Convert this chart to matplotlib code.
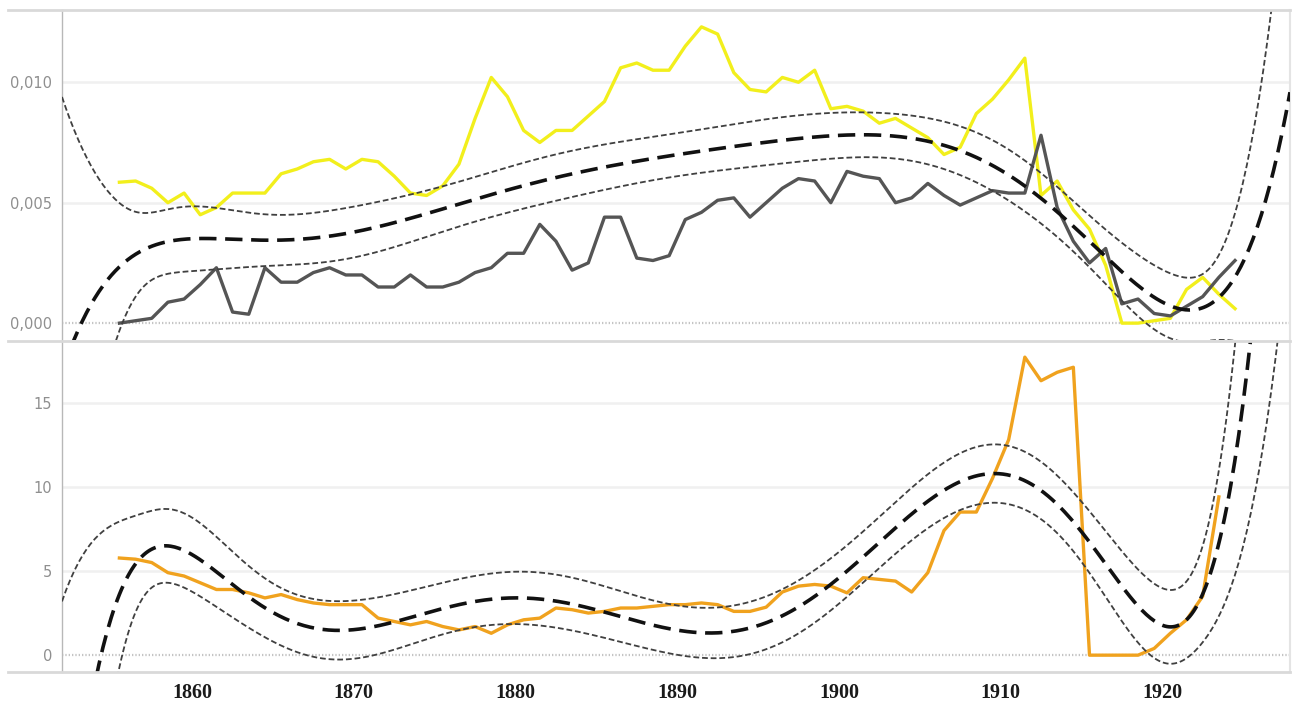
import matplotlib
matplotlib.use("Agg")
import matplotlib.pyplot as plt
from matplotlib.lines import Line2D
from matplotlib.ticker import FixedLocator, FuncFormatter
import numpy as np

# yearly observations, 1855..1924 (plotted at mid-year)
years = np.arange(1855, 1925)

yellow = [0.00585, 0.0059, 0.0056, 0.0050, 0.0054, 0.0045, 0.0048, 0.0054, 0.0054, 0.0054,
          0.0062, 0.0064, 0.0067, 0.0068, 0.0064, 0.0068, 0.0067, 0.0061, 0.0054, 0.0053,
          0.0057, 0.0066, 0.0085, 0.0102, 0.0094, 0.0080, 0.0075, 0.0080, 0.0080, 0.0086,
          0.0092, 0.0106, 0.0108, 0.0105, 0.0105, 0.0115, 0.0123, 0.0120, 0.0104, 0.0097,
          0.0096, 0.0102, 0.0100, 0.0105, 0.0089, 0.0090, 0.0088, 0.0083, 0.0085, 0.0081,
          0.0077, 0.0070, 0.0073, 0.0087, 0.0093, 0.0101, 0.0110, 0.0053, 0.0059, 0.0047,
          0.0039, 0.0024, 0.0000, 0.0000, 0.0001, 0.0002, 0.0014, 0.0019, 0.0012, 0.0006]

gray = [0.0000, 0.0001, 0.0002, 0.00087, 0.0010, 0.0016, 0.0023, 0.00046, 0.00037, 0.0023,
        0.0017, 0.0017, 0.0021, 0.0023, 0.0020, 0.0020, 0.0015, 0.0015, 0.0020, 0.0015,
        0.0015, 0.0017, 0.0021, 0.0023, 0.0029, 0.0029, 0.0041, 0.0034, 0.0022, 0.0025,
        0.0044, 0.0044, 0.0027, 0.0026, 0.0028, 0.0043, 0.0046, 0.0051, 0.0052, 0.0044,
        0.0050, 0.0056, 0.0060, 0.0059, 0.0050, 0.0063, 0.0061, 0.0060, 0.0050, 0.0052,
        0.0058, 0.0053, 0.0049, 0.0052, 0.0055, 0.0054, 0.0054, 0.0078, 0.0048, 0.0034,
        0.0025, 0.0031, 0.0008, 0.0010, 0.0004, 0.0003, 0.0007, 0.0011, 0.0019, 0.0026]

orange = [5.77, 5.7, 5.5, 4.9, 4.7, 4.3, 3.9, 3.9, 3.7, 3.4,
          3.6, 3.3, 3.1, 3.0, 3.0, 3.0, 2.2, 2.0, 1.8, 2.0,
          1.7, 1.5, 1.7, 1.3, 1.8, 2.1, 2.2, 2.8, 2.7, 2.5,
          2.6, 2.8, 2.8, 2.9, 3.0, 3.0, 3.1, 3.0, 2.6, 2.6,
          2.85, 3.75, 4.1, 4.2, 4.1, 3.7, 4.6, 4.5, 4.4, 3.75,
          4.9, 7.4, 8.5, 8.5, 10.5, 12.8, 17.7, 16.3, 16.8, 17.1,
          0.0, 0.0, 0.0, 0.0, 0.4, 1.3, 2.1, 3.5, 9.4, np.nan]

top_ticks = [0.0, 0.005, 0.010]
bottom_ticks = [0, 5, 10, 15]
x_ticks = [1860, 1870, 1880, 1890, 1900, 1910, 1920]

DEGREE = 7


def poly_trend(x, y, grid, deg=DEGREE, z=1.96):
    """Polynomial trend line with 95% confidence band of the mean."""
    x = np.asarray(x, float)
    y = np.asarray(y, float)
    ok = ~np.isnan(y)
    x, y = x[ok], y[ok]
    u = (x - 1890.0) / 35.0
    ug = (grid - 1890.0) / 35.0
    X = np.vander(u, deg + 1)
    Xg = np.vander(ug, deg + 1)
    beta, *_ = np.linalg.lstsq(X, y, rcond=None)
    resid = y - X @ beta
    s2 = resid @ resid / (len(y) - (deg + 1))
    cov = s2 * np.linalg.inv(X.T @ X)
    fit = Xg @ beta
    se = np.sqrt(np.sum((Xg @ cov) * Xg, axis=1))
    return fit, fit - z * se, fit + z * se


def draw_trend(ax, x, y, grid):
    fit, lo, hi = poly_trend(x, y, grid)
    for band in (lo, hi):
        ax.plot(grid, band, color="#404040", lw=1.3, ls=(0, (3.2, 1.6)), zorder=4)
    ax.plot(grid, fit, color="#111111", lw=2.6, ls=(0, (4.8, 2.4)), zorder=5)


def style_axis(ax, ticks, fmt, ylim):
    ax.set_xlim(1851.95, 1927.9)
    ax.set_ylim(*ylim)
    for t in ticks:
        if t == 0:
            ax.axhline(t, color="#c4c4c4", lw=1.6, ls=(0, (0.6, 0.9)), zorder=1)
        else:
            ax.axhline(t, color="#f0f0f0", lw=1.8, zorder=0)
    ax.yaxis.set_major_locator(FixedLocator(ticks))
    ax.yaxis.set_major_formatter(FuncFormatter(fmt))
    ax.tick_params(axis="y", length=0, pad=7, labelsize=10.5, labelcolor="#8f8f8f")
    for side in ("top", "bottom"):
        ax.spines[side].set_visible(False)
    ax.spines["left"].set_color("#b8b8b8")
    ax.spines["left"].set_linewidth(1.0)
    ax.spines["right"].set_color("#e4e4e4")
    ax.spines["right"].set_linewidth(1.5)


fig = plt.figure(figsize=(12.98, 7.02), dpi=100)
W, H = 1298.0, 702.0
left, right = 62 / W, 1290 / W
ax1 = fig.add_axes([left, 1 - 340 / H, right - left, 330 / H])
ax2 = fig.add_axes([left, 1 - 672 / H, right - left, 330 / H])

xs = years + 0.5
grid = np.linspace(1851.95, 1927.9, 600)

# top panel
ax1.plot(xs, yellow, color="#f2ef1c", lw=2.4, zorder=3)
ax1.plot(xs, gray, color="#555555", lw=2.4, zorder=3)
draw_trend(ax1, np.concatenate([xs, xs]), np.concatenate([yellow, gray]), grid)
style_axis(ax1, top_ticks, lambda v, p: f"{v:.3f}".replace(".", ","), (-0.0007, 0.0130))
ax1.set_xticks([])

# bottom panel
ax2.plot(xs, orange, color="#f0a21e", lw=2.4, zorder=3)
draw_trend(ax2, xs, orange, grid)
style_axis(ax2, bottom_ticks, lambda v, p: f"{v:.0f}", (-1.0, 18.6))
ax2.xaxis.set_major_locator(FixedLocator(x_ticks))
ax2.tick_params(axis="x", length=0, pad=8)
for lab in ax2.get_xticklabels():
    lab.set_fontfamily("Liberation Serif")
    lab.set_fontweight("bold")
    lab.set_fontsize(14.5)
    lab.set_color("#1a1a1a")

# pane separators spanning the full width
for ypx in (10, 341, 672):
    fig.add_artist(Line2D([8 / W, right], [1 - ypx / H] * 2, color="#d9d9d9", lw=2.0,
                          transform=fig.transFigure))

fig.savefig("out.png", dpi=100, facecolor="white")
